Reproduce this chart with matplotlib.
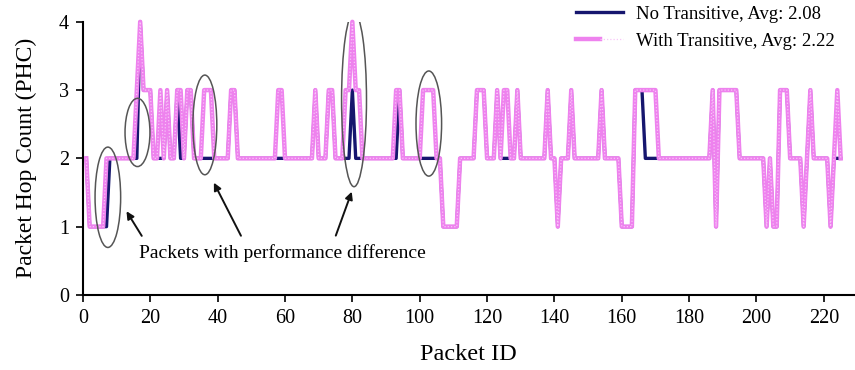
import numpy as np
import matplotlib.pyplot as plt
from matplotlib.patches import Ellipse
from matplotlib.legend_handler import HandlerTuple

plt.rcParams['font.family'] = ['Liberation Serif', 'DejaVu Serif']

packet_id = np.arange(1, 226)

# hop counts, 25 packets per row
with_transitive = [
    2, 1, 1, 1, 1, 1, 2, 2, 2, 2, 2, 2, 2, 2, 2, 3, 4, 3, 3, 3, 2, 2, 3, 2, 3,
    2, 2, 3, 3, 2, 3, 3, 2, 2, 2, 3, 3, 3, 2, 2, 2, 2, 2, 3, 3, 2, 2, 2, 2, 2,
    2, 2, 2, 2, 2, 2, 2, 3, 3, 2, 2, 2, 2, 2, 2, 2, 2, 2, 3, 2, 2, 2, 3, 3, 2,
    2, 2, 3, 3, 4, 3, 3, 2, 2, 2, 2, 2, 2, 2, 2, 2, 2, 3, 3, 2, 2, 2, 2, 2, 2,
    3, 3, 3, 3, 2, 2, 1, 1, 1, 1, 1, 2, 2, 2, 2, 2, 3, 3, 3, 2, 2, 2, 3, 2, 3,
    3, 2, 2, 3, 2, 2, 2, 2, 2, 2, 2, 2, 3, 2, 2, 1, 2, 2, 2, 3, 2, 2, 2, 2, 2,
    2, 2, 2, 3, 2, 2, 2, 2, 2, 1, 1, 1, 1, 3, 3, 3, 3, 3, 3, 3, 2, 2, 2, 2, 2,
    2, 2, 2, 2, 2, 2, 2, 2, 2, 2, 2, 3, 1, 3, 3, 3, 3, 3, 3, 2, 2, 2, 2, 2, 2,
    2, 2, 1, 2, 1, 1, 3, 3, 3, 2, 2, 2, 2, 1, 2, 3, 2, 2, 2, 2, 2, 1, 2, 3, 2,
]
no_transitive = [
    2, 1, 1, 1, 1, 1, 1, 2, 2, 2, 2, 2, 2, 2, 2, 2, 4, 3, 3, 3, 2, 2, 2, 2, 3,
    2, 2, 3, 2, 2, 3, 3, 2, 2, 2, 2, 2, 2, 2, 2, 2, 2, 2, 3, 3, 2, 2, 2, 2, 2,
    2, 2, 2, 2, 2, 2, 2, 2, 2, 2, 2, 2, 2, 2, 2, 2, 2, 2, 3, 2, 2, 2, 3, 3, 2,
    2, 2, 2, 2, 3, 2, 2, 2, 2, 2, 2, 2, 2, 2, 2, 2, 2, 2, 3, 2, 2, 2, 2, 2, 2,
    2, 2, 2, 2, 2, 2, 1, 1, 1, 1, 1, 2, 2, 2, 2, 2, 3, 3, 3, 2, 2, 2, 3, 2, 2,
    2, 2, 2, 3, 2, 2, 2, 2, 2, 2, 2, 2, 3, 2, 2, 1, 2, 2, 2, 3, 2, 2, 2, 2, 2,
    2, 2, 2, 3, 2, 2, 2, 2, 2, 1, 1, 1, 1, 3, 3, 3, 2, 2, 2, 2, 2, 2, 2, 2, 2,
    2, 2, 2, 2, 2, 2, 2, 2, 2, 2, 2, 3, 1, 3, 3, 3, 3, 3, 3, 2, 2, 2, 2, 2, 2,
    2, 2, 1, 2, 1, 1, 3, 3, 3, 2, 2, 2, 2, 1, 2, 3, 2, 2, 2, 2, 2, 1, 2, 2, 2,
]
series_labels = ['No Transitive, Avg: 2.08', 'With Transitive, Avg: 2.22']

# circled spots: centre x, centre y, width, height
circles = [(7.4, 1.43, 7.6, 1.47), (16.2, 2.38, 7.4, 1.0), (36.2, 2.49, 7.1, 1.46),
           (80.5, 2.86, 7.4, 2.55), (102.7, 2.51, 7.6, 1.54)]
# arrows: tail -> head
arrows = [((17.9, 0.83), (12.5, 1.26)), ((47.3, 0.83), (38.5, 1.68)),
          ((74.8, 0.83), (80.1, 1.55))]

fig = plt.figure(figsize=(8.55, 3.7), dpi=100)
ax = fig.add_axes([0.097, 0.203, 0.902, 0.738])

blue, = ax.plot(packet_id, no_transitive, color='#16166e', lw=2.4, zorder=3, clip_on=False)
pink, = ax.plot(packet_id, with_transitive, color='#ee82ee', lw=3.2, zorder=4,
                clip_on=False, solid_joinstyle='round')
dots, = ax.plot(packet_id, with_transitive, color='#f8c6f8', lw=0.9, ls=(0, (1, 1.6)),
                zorder=5, clip_on=False)

for cx, cy, w, h in circles:
    ax.add_patch(Ellipse((cx, cy), w, h, fill=False, edgecolor='#555555', lw=1.1, zorder=6))
for tail, head in arrows:
    ax.annotate('', xy=head, xytext=tail,
                arrowprops=dict(arrowstyle='-|>', color='#111111', lw=1.4, mutation_scale=11))

ax.text(59.2, 0.61, 'Packets with performance difference', ha='center', va='center', fontsize=14)

ax.set_xlim(0, 229)
ax.set_ylim(0, 4)
ax.set_xticks(range(0, 221, 20))
ax.set_yticks(range(0, 5))
for s in ['top', 'right']:
    ax.spines[s].set_visible(False)
for s in ['left', 'bottom']:
    ax.spines[s].set_linewidth(1.5)
ax.tick_params(direction='out', length=5, width=1.2, labelsize=14.5, pad=5)
ax.set_xlabel('Packet ID', fontsize=17.5, labelpad=12)
ax.set_ylabel('Packet Hop Count (PHC)', fontsize=17, labelpad=16)

ax.legend([blue, (pink, dots)], series_labels, handler_map={tuple: HandlerTuple(ndivide=None)},
          loc='upper right', bbox_to_anchor=(0.975, 1.06), frameon=False, fontsize=13.5,
          handlelength=2.5, handletextpad=0.7, labelspacing=0.55, borderaxespad=0, borderpad=0)

fig.savefig('out.png', dpi=100)
